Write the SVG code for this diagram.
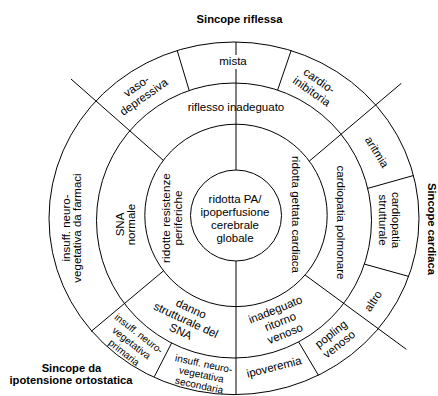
<svg xmlns="http://www.w3.org/2000/svg" width="438" height="396" viewBox="0 0 438 396">
<style>
.ln{stroke:#000;stroke-width:1;fill:none}
text{font-family:"Liberation Sans",Arial,sans-serif;font-size:11.5px;text-anchor:middle;fill:#000}
.s{font-size:10px}
.m{font-size:11.8px}
.b{font-weight:bold;font-size:11.2px}
</style>
<rect width="438" height="396" fill="#fff"/>
<g id="rings" class="ln">
<ellipse cx="234" cy="218.3" rx="185" ry="176.3"/>
<circle cx="234" cy="220.5" r="137.5"/>
<circle cx="236" cy="215.4" r="91.2"/>
<circle cx="236" cy="215.5" r="45.5"/>
</g>
<g id="connectors" class="ln">
<line x1="236" y1="42" x2="236" y2="170"/>
<line x1="236" y1="261" x2="236" y2="394.6"/>
<line x1="71" y1="79" x2="163.5" y2="160.5"/>
<line x1="401.3" y1="83.3" x2="309.3" y2="161.1"/>
<line x1="305.1" y1="275" x2="406.3" y2="349.3"/>
<line x1="163.3" y1="271" x2="91" y2="331.5"/>
<line x1="177.3" y1="50.9" x2="189.2" y2="90.5"/>
<line x1="291.2" y1="50.4" x2="277.6" y2="90.1"/>
<line x1="413.5" y1="175.5" x2="367.7" y2="188.4"/>
<line x1="408.7" y1="276.4" x2="364.4" y2="264.1"/>
<line x1="318.5" y1="375.4" x2="298.6" y2="341.9"/>
<line x1="154.3" y1="376.7" x2="171.6" y2="343"/>
</g>
<g id="title-riflessa"><text class="b" x="239.5" y="23">Sincope riflessa</text></g>
<g id="title-cardiaca" transform="translate(428.3,229) rotate(90)"><text class="b" y="0">Sincope cardiaca</text></g>
<g id="title-ortostatica"><text class="b"><tspan x="71.5" y="372.3">Sincope da</tspan><tspan x="71" y="384.3">ipotensione ortostatica</tspan></text></g>
<g id="n-center" transform="translate(235,218)"><text><tspan x="0" y="-15.5">ridotta PA/</tspan><tspan x="0" y="-2.5">ipoperfusione</tspan><tspan x="0" y="10.5">cerebrale</tspan><tspan x="0" y="23.5">globale</tspan></text></g>
<g id="n-resistenze" transform="translate(172,218) rotate(-90)"><text class="m"><tspan x="0" y="-1.95">ridotte resistenze</tspan><tspan x="0" y="10.35">periferiche</tspan></text></g>
<g id="n-gettata" transform="translate(295.5,214.5) rotate(90)"><text y="4">ridotta gettata cardiaca</text></g>
<g id="n-riflesso"><text x="236" y="111">riflesso inadeguato</text></g>
<g id="n-polmonare" transform="translate(341,222.5) rotate(90)"><text y="4">cardiopatia polmonare</text></g>
<g id="n-sna-normale" transform="translate(125,224.5) rotate(-90)"><text><tspan x="0" y="-1.5">SNA</tspan><tspan x="0" y="9.5">normale</tspan></text></g>
<g id="n-farmaci" transform="translate(71.5,228) rotate(-90)"><text><tspan x="0" y="-1.5">insuff. neuro-</tspan><tspan x="0" y="9.5">vegetativa da farmaci</tspan></text></g>
<g id="n-vaso" transform="translate(140,91.5) rotate(-35)"><text><tspan x="0" y="-2.5">vaso-</tspan><tspan x="0" y="10.5">depressiva</tspan></text></g>
<g id="n-mista"><rect x="218" y="55" width="30" height="14" fill="#fff"/><text x="233" y="65">mista</text></g>
<g id="n-cardioinib" transform="translate(315.5,86) rotate(35)"><text><tspan x="0" y="-2.5">cardio-</tspan><tspan x="0" y="10.5">inibitoria</tspan></text></g>
<g id="n-aritmia" transform="translate(377,152) rotate(58)"><text y="4">aritmia</text></g>
<g id="n-strutturale" transform="translate(389.5,220) rotate(90)"><text><tspan x="0" y="-2.5">cardiopatia</tspan><tspan x="0" y="10.5">strutturale</tspan></text></g>
<g id="n-altro" transform="translate(373,301) rotate(-57)"><text y="4">altro</text></g>
<g id="n-popling" transform="translate(335,339) rotate(-38)"><text><tspan x="0" y="-2.5">popling</tspan><tspan x="0" y="10.5">venoso</tspan></text></g>
<g id="n-ipoveremia" transform="translate(274,367) rotate(-14)"><text y="4">ipoveremia</text></g>
<g id="n-ritorno" transform="translate(280.2,321.5) rotate(-22)"><text><tspan x="0" y="-9">inadeguato</tspan><tspan x="0" y="4">ritorno</tspan><tspan x="0" y="17">venoso</tspan></text></g>
<g id="n-danno" transform="translate(186,320) rotate(25)"><text><tspan x="0" y="-8.5">danno</tspan><tspan x="0" y="4">strutturale del</tspan><tspan x="0" y="16.5">SNA</tspan></text></g>
<g id="n-primaria" transform="translate(131.5,343) rotate(38)"><text class="s"><tspan x="0" y="-8.5">insuff. neuro-</tspan><tspan x="0" y="3.5">vegetativa</tspan><tspan x="0" y="15.5">primaria</tspan></text></g>
<g id="n-secondaria" transform="translate(201.5,374.5) rotate(12)"><text class="s"><tspan x="0" y="-7.5">insuff. neuro-</tspan><tspan x="0" y="3.5">vegetativa</tspan><tspan x="0" y="14.5">secondaria</tspan></text></g>
</svg>
